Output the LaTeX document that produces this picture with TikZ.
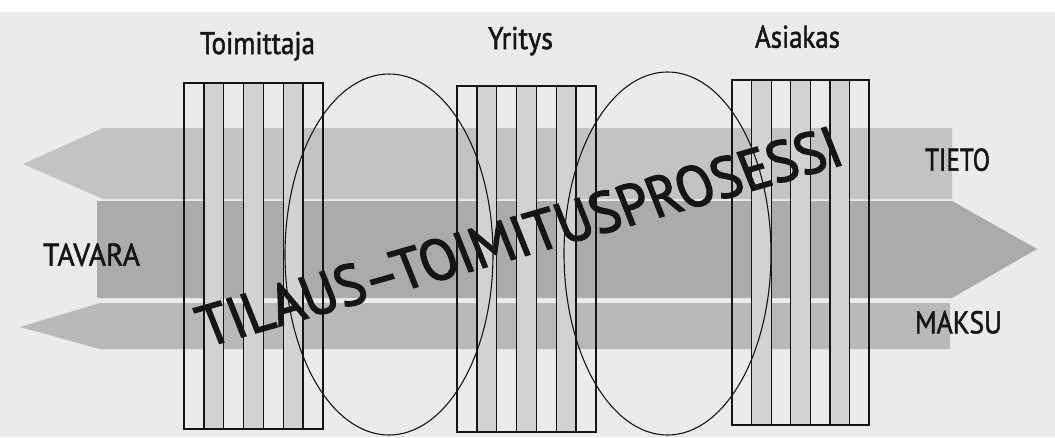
\documentclass[tikz,border=0pt]{standalone}
\usepackage{fontspec}
\setmainfont{PT Sans}
\newfontfamily\lblfont{PT Sans}[FakeBold=1.6]
\newfontfamily\procfont{PT Sans}[FakeBold=2.5]
\usetikzlibrary{shapes.geometric}
\definecolor{bg}{HTML}{EBEBEB}
\definecolor{tietoc}{HTML}{C3C3C3}
\definecolor{tavarac}{HTML}{ABABAB}
\definecolor{maksuc}{HTML}{B9B9B9}
\definecolor{stripec}{HTML}{D2D2D2}
\definecolor{ink}{HTML}{151515}
\newcommand\stripedbox[5]{%
  \pgfmathsetmacro\sw{(#4-#2)/7}%
  \foreach \k in {1,3,5} {\fill[stripe] ({#2+\k*\sw},#3) rectangle ({#2+(\k+1)*\sw},#5);}%
  \foreach \k in {1,...,6} {\draw[divider] ({#2+\k*\sw},#3) -- ({#2+\k*\sw},#5);}%
  \pgfmathsetmacro\bw{#4-#2}\pgfmathsetmacro\bh{#5-#3}%
  \node[frame, minimum width=\bw pt, minimum height=\bh pt] (#1) at ({(#2+#4)/2},{(#3+#5)/2}) {};%
}
\begin{document}
\begin{tikzpicture}[x=1pt,y=-1pt,
  lbl/.style={inner sep=0pt, anchor=base, text=ink, font=\lblfont\fontsize{31.4}{36}\selectfont},
  stripe/.style={fill=stripec},
  divider/.style={draw=ink, line width=1.3pt},
  frame/.style={draw=ink, line width=2.2pt, rectangle, inner sep=0pt},
  oval/.style={draw=ink, line width=1.1pt, ellipse, inner sep=0pt}
]
\useasboundingbox (0,0) rectangle (1055,437);
\fill[bg] (0,0) rectangle (1055,437);
\fill[white] (0,0) rectangle (1055,12);
% flows
\fill[tietoc] (952,128) -- (103,128) -- (23,164) -- (103,199) -- (952,199) -- cycle;
\fill[tavarac] (97,201) -- (952,201) -- (1037,249) -- (952,298) -- (97,298) -- cycle;
\fill[maksuc] (950,303) -- (100,303) -- (20,327) -- (100,349) -- (950,349) -- cycle;
% parties
\stripedbox{toimittaja}{184}{83}{323}{429}
\stripedbox{yritys}{457}{86}{596}{432}
\stripedbox{asiakas}{732}{80}{869}{425}
% interfaces
\node[oval, minimum width=208pt, minimum height=361pt] (e1) at (389,254.5) {};
\node[oval, minimum width=207pt, minimum height=363pt] (e2) at (667.5,253.5) {};
% labels
\node[lbl] (ltoim) at (257.5,54) {\resizebox{115pt}{\height}{Toimittaja}};
\node[lbl] (lyri) at (520.5,49) {\resizebox{65pt}{\height}{Yritys}};
\node[lbl] (lasi) at (797.5,47.7) {\resizebox{85pt}{\height}{Asiakas}};
\node[lbl] (ltieto) at (957.5,170.7) {\resizebox{65pt}{\height}{TIETO}};
\node[lbl] (lmaksu) at (958.5,333.3) {\resizebox{87pt}{\height}{MAKSU}};
\node[lbl] (ltavara) at (91.5,265.7) {\resizebox{97pt}{\height}{TAVARA}};
\node[inner sep=0pt, anchor=base west, rotate=16, xslant=-0.1, text=ink,
      font=\procfont\fontsize{58}{60}\selectfont] (proc) at (207,347)
      {\resizebox{665pt}{\height}{TILAUS–TOIMITUSPROSESSI}};
\end{tikzpicture}
\end{document}
